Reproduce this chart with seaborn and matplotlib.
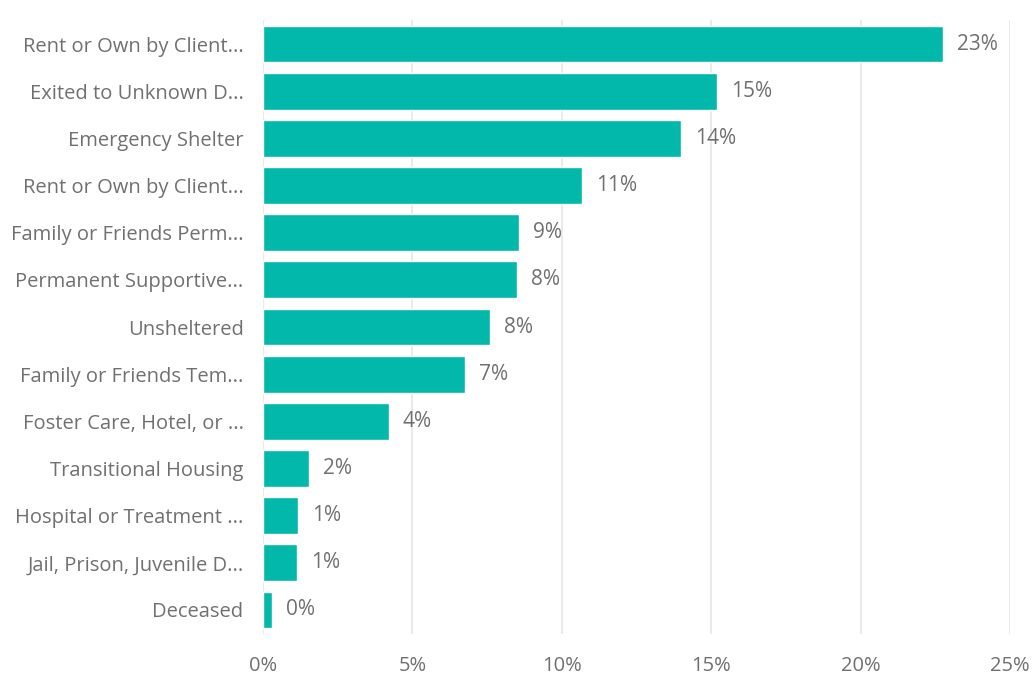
import numpy as np
import pandas as pd
import matplotlib
matplotlib.use("Agg")
import matplotlib.pyplot as plt
import seaborn as sns
from matplotlib.ticker import FuncFormatter

# dados
destinos = [
    "Rent or Own by Client...",
    "Exited to Unknown D...",
    "Emergency Shelter",
    "Rent or Own by Client...",
    "Family or Friends Perm...",
    "Permanent Supportive...",
    "Unsheltered",
    "Family or Friends Tem...",
    "Foster Care, Hotel, or ...",
    "Transitional Housing",
    "Hospital or Treatment ...",
    "Jail, Prison, Juvenile D...",
    "Deceased",
]
percentuais = [22.75, 15.2, 13.98, 10.68, 8.57, 8.49, 7.59, 6.77, 4.21, 1.54, 1.17, 1.14, 0.30]
rotulos = ["23%", "15%", "14%", "11%", "9%", "8%", "8%", "7%", "4%", "2%", "1%", "1%", "0%"]
ticks_x = [0, 5, 10, 15, 20, 25]

df = pd.DataFrame({"destino": range(len(destinos)), "pct": percentuais})

sns.set_style("white")
plt.rcParams["font.family"] = ["Open Sans", "DejaVu Sans"]
cinza = "#707070"

fig = plt.figure(figsize=(10.33, 6.79), dpi=100)
ax = fig.add_axes([0.2546, 0.0669, 0.7231, 0.903])

sns.barplot(data=df, x="pct", y="destino", orient="h", color="#01B8AA",
            saturation=1, width=0.78, ax=ax)

ax.bar_label(ax.containers[0], labels=rotulos, padding=10, fontsize=15, color=cinza)

ax.set_xlim(0, 25)
ax.set_ylim(len(destinos) - 0.5, -0.5)
ax.set_xticks(ticks_x)
ax.xaxis.set_major_formatter(FuncFormatter(lambda v, p: f"{v:.0f}%"))
ax.set_yticks(range(len(destinos)))
ax.set_yticklabels(destinos)
ax.set_xlabel("")
ax.set_ylabel("")
ax.tick_params(axis="both", length=0, labelsize=14.5, colors=cinza)
ax.tick_params(axis="y", pad=14)
ax.tick_params(axis="x", pad=16)
ax.grid(axis="x", color="#e6e6e6", linewidth=1.2)
ax.set_axisbelow(True)
for s in ax.spines.values():
    s.set_visible(False)

fig.savefig("out.png", dpi=100)
